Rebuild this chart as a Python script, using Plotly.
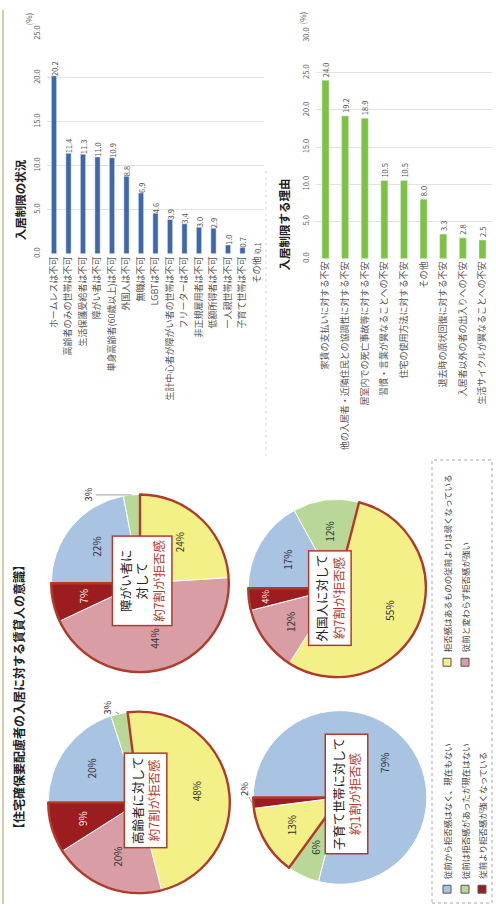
import math
import plotly.graph_objects as go

W, H = 496, 910
FONT = "Noto Sans CJK JP"

# ---- 入居制限の状況 (%) ----
limit_labels = [
    "ホームレスは不可", "高齢者のみの世帯は不可", "生活保護受給者は不可", "障がい者は不可",
    "単身高齢者(60歳以上)は不可", "外国人は不可", "無職は不可", "LGBTは不可",
    "生計中心者が障がい者の世帯は不可", "フリーターは不可", "非正規雇用者は不可", "低額所得者は不可",
    "一人親世帯は不可", "子育て世帯は不可", "その他",
]
limit_values = [20.2, 11.4, 11.3, 11.0, 10.9, 8.8, 6.9, 4.6, 3.9, 3.4, 3.0, 2.9, 1.0, 0.7, 0.1]
limit_ticks = [0, 5, 10, 15, 20, 25]

# ---- 入居制限する理由 (%) ----
reason_labels = [
    "家賃の支払いに対する不安", "他の入居者・近隣住民との協調性に対する不安",
    "居室内での死亡事故等に対する不安", "習慣・言葉が異なることへの不安",
    "住宅の使用方法に対する不安", "その他", "退去時の原状回復に対する不安",
    "入居者以外の者の出入りへの不安", "生活サイクルが異なることへの不安",
]
reason_values = [24.0, 19.2, 18.9, 10.5, 10.5, 8.0, 3.3, 2.8, 2.5]
reason_ticks = [0, 5, 10, 15, 20, 25, 30]

# ---- 賃貸人の意識 (%) ----
attitude_labels = [
    "従前から拒否感はなく、現在もない",
    "従前は拒否感があったが現在はない",
    "拒否感はあるものの従前よりは弱くなっている",
    "従前と変わらず拒否感が強い",
    "従前より拒否感が強くなっている",
]
attitude_colors = ["#a9c3e3", "#b9d898", "#f4f088", "#d99ea5", "#9b1d1f"]
disabled_share = [22, 3, 24, 44, 7]
elderly_share = [20, 3, 48, 20, 9]
foreign_share = [17, 12, 55, 12, 4]
family_share = [79, 6, 13, 0, 2]
target_heads = ["障がい者に<br>対して", "高齢者に対して", "外国人に対して", "子育て世帯に対して"]
target_summary = ["約7割が拒否感", "約7割が拒否感", "約7割が拒否感", "約1割が拒否感"]

RED = "#b13b2b"


def px(x):
    return x / W


def py(y):
    return 1 - y / H


def note(**kw):
    kw.setdefault("xref", "paper")
    kw.setdefault("yref", "paper")
    kw.setdefault("xanchor", "center")
    kw.setdefault("yanchor", "middle")
    return kw


fig = go.Figure()

# bar charts (all text turned a quarter turn, reading upward)
fig.add_trace(go.Bar(
    x=limit_labels, y=limit_values, xaxis="x", yaxis="y",
    marker_color="#3f67aa", width=0.36,
    text=[f"{v:.1f}" for v in limit_values], textposition="outside", textangle=-90,
    constraintext="none", cliponaxis=False,
    textfont=dict(size=7.5, color="#555", family=FONT),
    showlegend=False, hoverinfo="skip",
))
fig.add_trace(go.Bar(
    x=reason_labels, y=reason_values, xaxis="x2", yaxis="y2",
    marker_color="#7dc242", width=0.36,
    text=[f"{v:.1f}" for v in reason_values], textposition="outside", textangle=-90,
    constraintext="none", cliponaxis=False,
    textfont=dict(size=7.5, color="#555", family=FONT),
    showlegend=False, hoverinfo="skip",
))

axis_font = dict(size=7.5, color="#666", family=FONT)
cat_font = dict(size=9, color="#555", family=FONT)
fig.update_layout(
    xaxis=dict(domain=[px(46.75), px(264.25)], anchor="y", type="category",
               tickangle=-90, tickfont=cat_font, showgrid=False, ticks="",
               showline=False),
    yaxis=dict(domain=[py(249), py(26)], anchor="x", range=[0, 25],
               tickvals=limit_ticks, tickformat=".1f", tickangle=-90, tickfont=axis_font,
               ticklabelstandoff=4,
               gridcolor="#e2e2e2", gridwidth=1, zeroline=False, showline=False, ticks=""),
    xaxis2=dict(domain=[px(315.7), px(492.3)], anchor="y2", type="category",
                tickangle=-90, tickfont=cat_font, showgrid=False, ticks="",
                showline=False),
    yaxis2=dict(domain=[py(254), py(28)], anchor="x2", range=[0, 30],
                tickvals=reason_ticks, tickformat=".1f", tickangle=-90, tickfont=axis_font,
                ticklabelstandoff=4,
                gridcolor="#e2e2e2", gridwidth=1, zeroline=False, showline=False, ticks=""),
)

# pie charts: start at 9 o'clock, clockwise
pie_sets = [
    dict(values=disabled_share, cx=140, cy=583, r=90, box=(142, 581),
         small={1: (-44, 0)}),
    dict(values=elderly_share, cx=139, cy=805, r=92, box=(146, 803),
         small={1: (-12, -6)}),
    dict(values=foreign_share, cx=337, cy=588, r=90, box=(330, 598),
         small={4: None}),
    dict(values=family_share, cx=340, cy=800, r=88, box=(347, 797),
         small={4: (-8, -14)}),
]

annotations = []
START = 270.0  # compass angle of the first slice edge
for i, p in enumerate(pie_sets):
    cx, cy, r = p["cx"], p["cy"], p["r"]
    dom = dict(x=[px(cx - r), px(cx + r)], y=[py(cy + r), py(cy - r)])
    vals = p["values"]
    fig.add_trace(go.Pie(
        values=vals, labels=attitude_labels, sort=False, direction="clockwise",
        rotation=-90, textinfo="none", domain=dom, showlegend=False,
        marker=dict(colors=attitude_colors, line=dict(color="white", width=1)),
        hoverinfo="skip",
    ))
    # outline of the share that still feels reluctance
    fig.add_trace(go.Pie(
        values=[vals[0] + vals[1], vals[2] + vals[3] + vals[4]],
        labels=["拒否感なし", "拒否感あり"], sort=False, direction="clockwise",
        rotation=-90, textinfo="none", domain=dom, showlegend=False,
        marker=dict(colors=["rgba(0,0,0,0)", "rgba(0,0,0,0)"],
                    line=dict(color=RED, width=[0, 2.4])),
        hoverinfo="skip",
    ))
    total = sum(vals)
    cum = 0
    for k, v in enumerate(vals):
        if v <= 0:
            cum += v
            continue
        mid = math.radians(START + (cum + v / 2) / total * 360)
        cum += v
        if k in p["small"]:
            off = p["small"][k]
            if off is None:
                rho = 0.8 * r
                annotations.append(note(
                    x=px(cx + rho * math.sin(mid)), y=py(cy - rho * math.cos(mid)),
                    text=f"{v}%", showarrow=False, textangle=-90,
                    font=dict(size=9.5, color="#eee", family=FONT)))
            else:
                annotations.append(note(
                    x=px(cx + r * math.sin(mid)), y=py(cy - r * math.cos(mid)),
                    text=f"{v}%", showarrow=True, arrowhead=0, arrowwidth=0.8,
                    arrowcolor="#888", ax=off[0], ay=off[1], textangle=-90,
                    font=dict(size=9.5, color="#333", family=FONT)))
        else:
            rho = 0.64 * r
            color = "#eee" if k == 4 else "#333"
            annotations.append(note(
                x=px(cx + rho * math.sin(mid)), y=py(cy - rho * math.cos(mid)),
                text=f"{v}%", showarrow=False, textangle=-90,
                font=dict(size=10, color=color, family=FONT)))
    bx, by = p["box"]
    annotations.append(note(
        x=px(bx), y=py(by), showarrow=False, textangle=-90, align="center",
        text=f"{target_heads[i]}<br><span style='color:{RED}'>{target_summary[i]}</span>",
        font=dict(size=12.5, color="#222", family=FONT),
        bgcolor="white", bordercolor=RED, borderwidth=1.5, borderpad=3,
    ))

# titles and units
title_font = dict(size=11.5, color="#222", family=FONT, weight="bold")
annotations += [
    note(x=px(20), y=py(238), text="入居制限の状況", textangle=-90, showarrow=False,
         yanchor="bottom", font=title_font),
    note(x=px(284), y=py(268), text="入居制限する理由", textangle=-90, showarrow=False,
         yanchor="bottom", font=title_font),
    note(x=px(19), y=py(840), text="【住宅確保要配慮者の入居に対する賃貸人の意識】",
         textangle=-90, showarrow=False, yanchor="bottom",
         font=dict(size=12, color="#222", family=FONT, weight="bold")),
    note(x=px(28), y=py(3), text="(%)", textangle=-90, showarrow=False,
         yanchor="top", font=dict(size=8, color="#555", family=FONT)),
    note(x=px(302), y=py(2), text="(%)", textangle=-90, showarrow=False,
         yanchor="top", font=dict(size=8, color="#555", family=FONT)),
]

# legend for the pies
shapes = [
    dict(type="line", xref="paper", yref="paper", x0=px(3), x1=px(3), y0=py(2), y1=py(908),
         line=dict(color="#cdbd8a", width=1.5)),
    dict(type="line", xref="paper", yref="paper", x0=px(266), x1=px(266), y0=py(165), y1=py(455),
         line=dict(color="#d6d6d6", width=1, dash="dot")),
    dict(type="rect", xref="paper", yref="paper", x0=px(432), x1=px(492), y0=py(907), y1=py(458),
         line=dict(color="#a8a8a8", width=1, dash="dot")),
]
legend_slots = [(447, 893), (465, 893), (447, 663), (465, 663), (482, 893)]
for k, (lx, ly) in enumerate(legend_slots):
    shapes.append(dict(type="rect", xref="paper", yref="paper",
                       x0=px(lx - 4), x1=px(lx + 4), y0=py(ly + 4), y1=py(ly - 4),
                       fillcolor=attitude_colors[k], line=dict(color="#555", width=1)))
    annotations.append(note(x=px(lx), y=py(ly - 8), text=attitude_labels[k], textangle=-90,
                            showarrow=False, yanchor="bottom",
                            font=dict(size=8.5, color="#444", family=FONT)))

fig.update_layout(
    width=W, height=H, margin=dict(l=0, r=0, t=0, b=0),
    paper_bgcolor="white", plot_bgcolor="white",
    font=dict(family=FONT),
    annotations=annotations, shapes=shapes,
    showlegend=False,
)

fig.write_html("out.html")
